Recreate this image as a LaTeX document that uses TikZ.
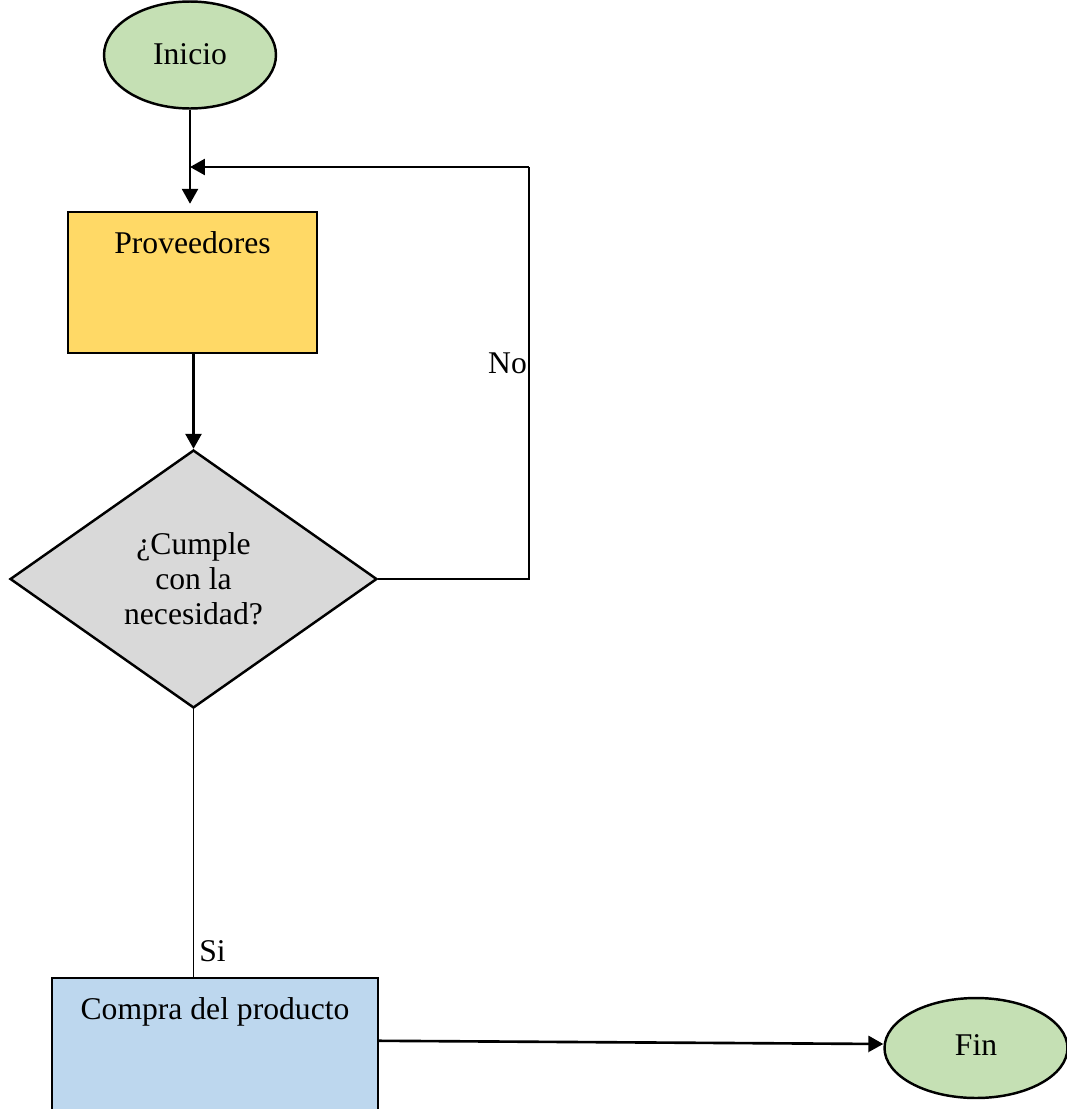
\documentclass[tikz,border=0pt]{standalone}
\usepackage{fontspec}
\setmainfont{Liberation Serif}
\usetikzlibrary{shapes.geometric, arrows.meta, positioning}

\definecolor{termgreen}{HTML}{C5E0B4}
\definecolor{procyellow}{HTML}{FFD966}
\definecolor{decgray}{HTML}{D9D9D9}
\definecolor{buyblue}{HTML}{BDD7EE}

\begin{document}
\begin{tikzpicture}[x=0.02cm, y=-0.02cm, >={Triangle[length=0.3cm, width=0.32cm]}, font=\fontsize{18}{20}\selectfont]
      \tikzstyle{startstop}=[ellipse, draw=black, line width=1.4pt, inner sep=0pt, fill=termgreen]
      \tikzstyle{process}=[rectangle, draw=black, line width=1.4pt, inner sep=0pt]
      \tikzstyle{decision}=[diamond, draw=black, line width=1.4pt, inner sep=0pt, fill=decgray, align=center]
      \tikzstyle{flow}=[->, line width=1.5pt]
      \tikzstyle{thinline}=[line width=0.6pt]
      \useasboundingbox (0,0) rectangle (1067,1109);
      \clip (0,0) rectangle (1067,1109);
      \node[startstop, minimum width=3.44cm, minimum height=2.14cm] (inicio) at (190,55) {\raisebox{0.04cm}{Inicio}};
      \node[process, fill=procyellow, minimum width=4.98cm, minimum height=2.82cm,
            label={[anchor=north, yshift=-0.3cm]north:Proveedores}] (prov) at (192.5,282.5) {};
      \node[decision, minimum width=7.34cm, minimum height=5.16cm] (dec) at (193.5,579) {¿Cumple\\con la\\necesidad?};
      \node[process, fill=buyblue, minimum width=6.52cm, minimum height=3.6cm,
            label={[anchor=north, yshift=-0.3cm]north:Compra del producto}] (compra) at (215,1068) {};
      \node[startstop, minimum width=3.66cm, minimum height=2cm] (fin) at (976,1048) {\raisebox{0.1cm}{Fin}};
      \coordinate (join) at (190,167);
      \coordinate (turn) at (529,167);
      % main flow
      \draw[flow, shorten >=0.14cm] (inicio) -- (inicio |- prov.north);
      \draw[flow] (prov.south -| dec.north) -- (dec.north);
      % decision exits
      \draw[thinline] (dec.east) -| (turn);
      \draw[flow] (turn) -- (join);
      \node[left, inner sep=1pt] (nolbl) at (529,363) {No};
      \draw[thinline] (dec.south) -- (dec.south |- compra.north);
      \node[right, inner sep=4pt] (silbl) at (192,951) {Si};
      \draw[flow] (compra.north east) ++(0,64) -- ([yshift=0.08cm]fin.west);
\end{tikzpicture}
\end{document}
